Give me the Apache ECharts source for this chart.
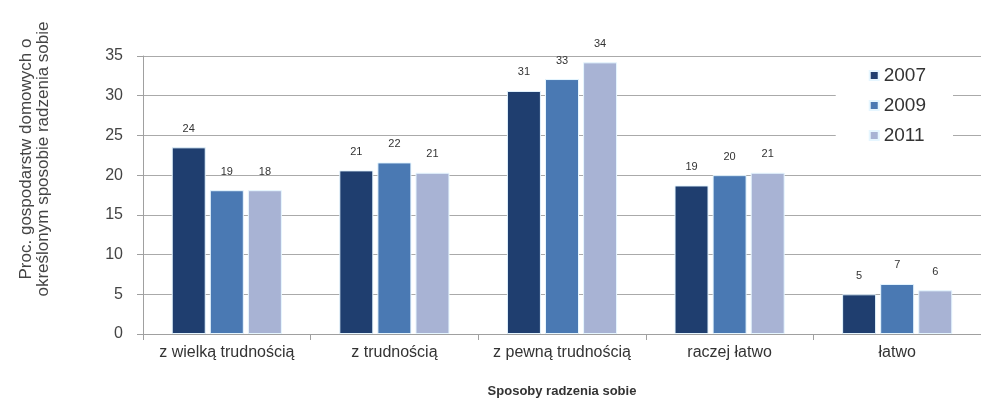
<!DOCTYPE html>
<html>
<head>
<meta charset="utf-8">
<script src="https://cdn.jsdelivr.net/npm/echarts@6/dist/echarts.min.js"></script>
<style>html,body{margin:0;padding:0;background:#fff;}#c{width:981px;height:404px;}</style>
</head>
<body>
<div id="c"></div>
<script>
const categories = ['z wielką trudnością', 'z trudnością', 'z pewną trudnością', 'raczej łatwo', 'łatwo'];
const years = ['2007', '2009', '2011'];
const values2007 = [23.5, 20.6, 30.6, 18.7, 5.0];
const values2009 = [18.1, 21.6, 32.1, 20.0, 6.3];
const values2011 = [18.1, 20.3, 34.2, 20.3, 5.5];
const labels2007 = [24, 21, 31, 19, 5];
const labels2009 = [19, 22, 33, 20, 7];
const labels2011 = [18, 21, 34, 21, 6];
const yTicks = [0, 5, 10, 15, 20, 25, 30, 35];
const colors = ['#1f3e6f', '#4a79b3', '#a8b3d4'];
const FONT = 'Liberation Sans';

const chart = echarts.init(document.getElementById('c'));
const valSets = [values2007, values2009, values2011];
const labSets = [labels2007, labels2009, labels2011];

chart.setOption({
  backgroundColor: '#ffffff',
  animation: false,
  textStyle: { fontFamily: FONT },
  grid: { left: 143, right: -5, top: 56, bottom: 70 },
  legend: {
    data: years,
    orient: 'vertical',
    right: 28,
    top: 60,
    icon: 'rect',
    itemWidth: 9,
    itemHeight: 9,
    itemGap: 11,
    backgroundColor: '#ffffff',
    padding: [6, 27, 6, 33],
    textStyle: { fontSize: 19, color: '#333', fontFamily: FONT }
  },
  xAxis: {
    type: 'category',
    data: categories,
    name: 'Sposoby radzenia sobie',
    nameLocation: 'middle',
    nameGap: 51,
    nameTextStyle: { fontSize: 13, fontWeight: 'bold', color: '#333', fontFamily: FONT },
    axisLine: { lineStyle: { color: '#a0a0a0' } },
    axisTick: { show: true, interval: 0, length: 6, lineStyle: { color: '#a0a0a0' } },
    axisLabel: { interval: 0, hideOverlap: false, fontSize: 16, color: '#333', margin: 11, fontFamily: FONT }
  },
  yAxis: {
    type: 'value',
    min: yTicks[0],
    max: yTicks[yTicks.length - 1],
    interval: 5,
    axisLine: { show: true, lineStyle: { color: '#a0a0a0' } },
    axisTick: { show: true, length: 6, lineStyle: { color: '#a0a0a0' } },
    axisLabel: { fontSize: 16, color: '#444', margin: 20, fontFamily: FONT },
    splitLine: { lineStyle: { color: '#aaaaaa', width: 1 } }
  },
  graphic: [{
    type: 'text',
    x: 35,
    y: 159,
    rotation: Math.PI / 2,
    style: {
      text: 'Proc. gospodarstw domowych o\nokreślonym sposobie radzenia sobie',
      font: '17px "Liberation Sans"',
      fill: '#444',
      textAlign: 'center',
      textVerticalAlign: 'middle',
      lineHeight: 17
    }
  }],
  series: years.map((y, i) => ({
    name: y,
    type: 'bar',
    data: valSets[i],
    barWidth: 34,
    barGap: '12%',
    itemStyle: { color: colors[i], borderColor: '#e6f6ff', borderWidth: 1 },
    label: {
      show: true,
      position: 'top',
      distance: 13,
      fontSize: 11,
      color: '#333',
      formatter: p => labSets[i][p.dataIndex]
    }
  }))
});
</script>
</body>
</html>
